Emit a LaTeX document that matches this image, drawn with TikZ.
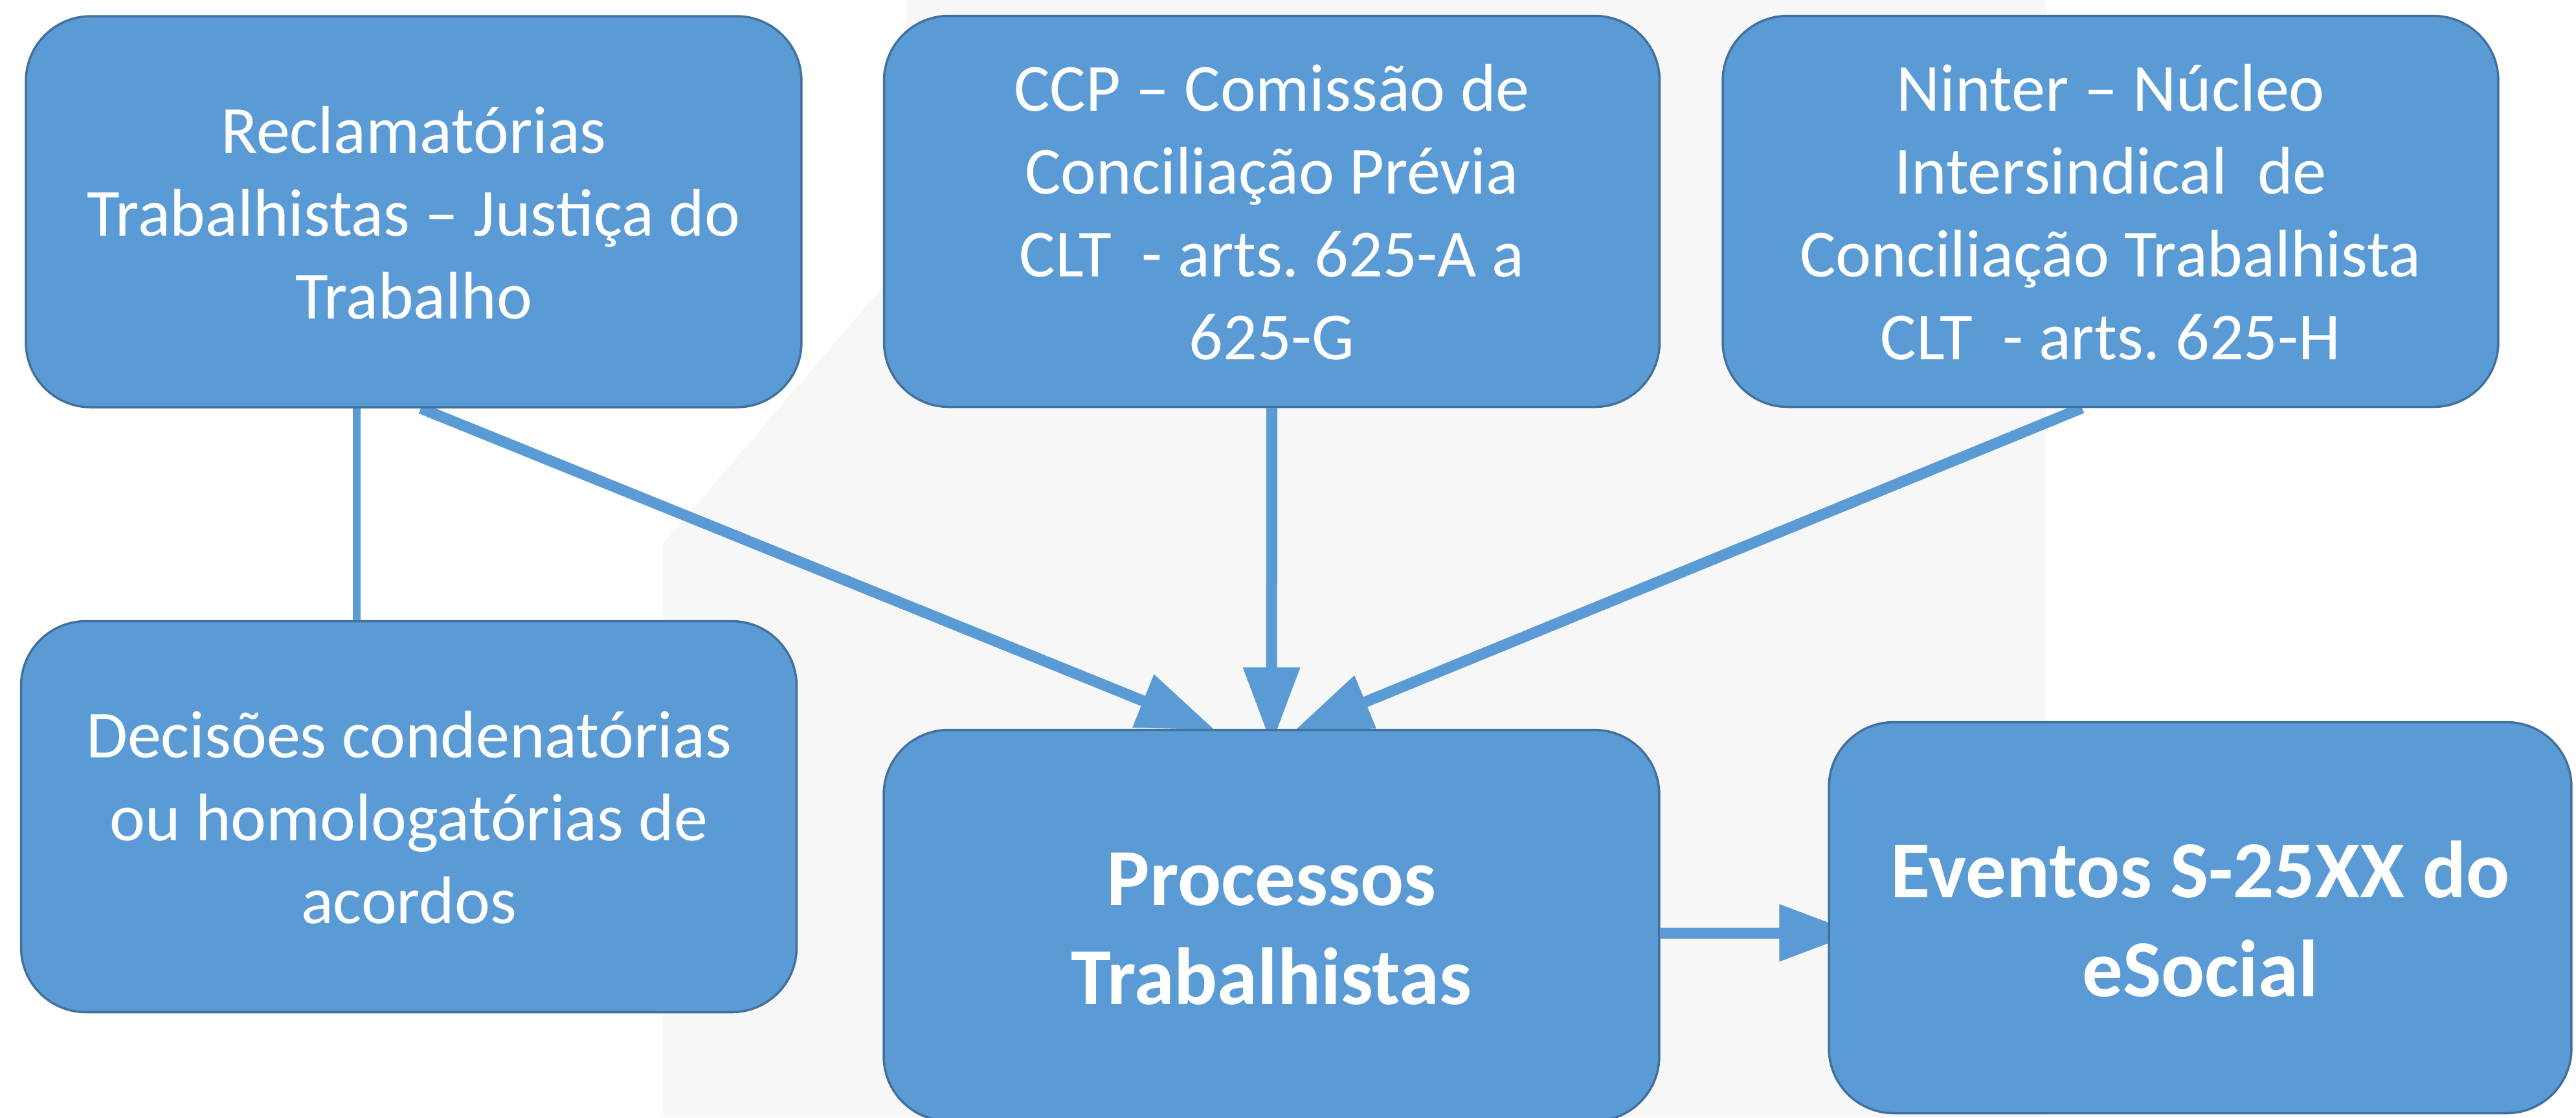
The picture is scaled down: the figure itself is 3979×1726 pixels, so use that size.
\documentclass[tikz,border=0pt]{standalone}
\usepackage{fontspec}
\setmainfont{Carlito}
\usetikzlibrary{arrows.meta,calc}
\pgfdeclarelayer{bgA}
\pgfdeclarelayer{bgB}
\pgfsetlayers{bgA,bgB,main}
\definecolor{boxfill}{HTML}{5B9BD5}
\definecolor{boxline}{HTML}{41719C}
\definecolor{wm}{HTML}{F7F7F7}
\newcommand{\mytop}{\rule{0pt}{1.02em}}
\newcommand{\mybot}{\rule[-0.3em]{0pt}{0pt}}
\frenchspacing
\begin{document}
\begin{tikzpicture}[x=0.1pt,y=-0.1pt,
  box/.style={draw=boxline, line width=0.35pt, fill=boxfill, rounded corners=10pt,
    minimum width=119.8pt, minimum height=60.4pt, inner sep=0pt, align=center,
    text=white, font=\fontsize{10.4pt}{12.8pt}\selectfont},
  bigbox/.style={box, font=\fontsize{12.5pt}{15.3pt}\selectfont\bfseries},
  conn/.style={draw=boxfill, line width=1.7pt},
  arr/.style={conn, -{Triangle[length=12pt,width=8.4pt]}}]
\useasboundingbox (0,0) rectangle (3979,1726);

\node[box] (b1) at (639,327) {\mytop Reclamatórias\\Trabalhistas – Justiça do\\Trabalho\mybot};
\node[box] (b2) at (1964.5,326.5) {\mytop CCP – Comissão de\\Conciliação Prévia\\CLT\ \ - arts. 625-A a\\625-G\mybot};
\node[box] (b3) at (3260,326.5) {\mytop Ninter – Núcleo\\Intersindical\ \ de\\Conciliação Trabalhista\\CLT\ \ - arts. 625-H\mybot};
\node[box] (b4) at (631.5,1261.5) {\mytop Decisões condenatórias\\ou homologatórias de\\acordos\mybot};
\node[bigbox] (b5) at (1964,1429.5) {\mytop Processos\\Trabalhistas\mybot};
\node[bigbox, minimum width=114.7pt] (b6) at (3398.5,1417.5) {\mytop Eventos S-25XX do\\eSocial\mybot};

\begin{pgfonlayer}{bgA}
\fill[white] (0,0) rectangle (3979,1726);
\fill[wm] (1024,1726) -- (1024,840) -- (1400,400) -- (1400,0) -- (3160,0) -- (3160,1726) -- cycle;
\end{pgfonlayer}

\begin{pgfonlayer}{bgB}
\coordinate (s1) at ($(b1.south)+(-88,0)$);
\draw[conn, line width=1.25pt] (s1) -- (s1 |- b4.north);
\draw[arr] ($(b1.south)+(11,0)$) -- ($(b5.north)+(-87,2)$);
\draw[arr] (b2.south) -- ($(b5.north)+(0,25)$);
\draw[arr] ($(b3.south)+(-44,0)$) -- ($(b5.north)+(34,4)$);
\coordinate (s4) at ($(b5.east)+(0,11.5)$);
\draw[arr] (s4) -- ($(s4 -| b6.west)+(45,0)$);
\end{pgfonlayer}
\end{tikzpicture}
\end{document}
